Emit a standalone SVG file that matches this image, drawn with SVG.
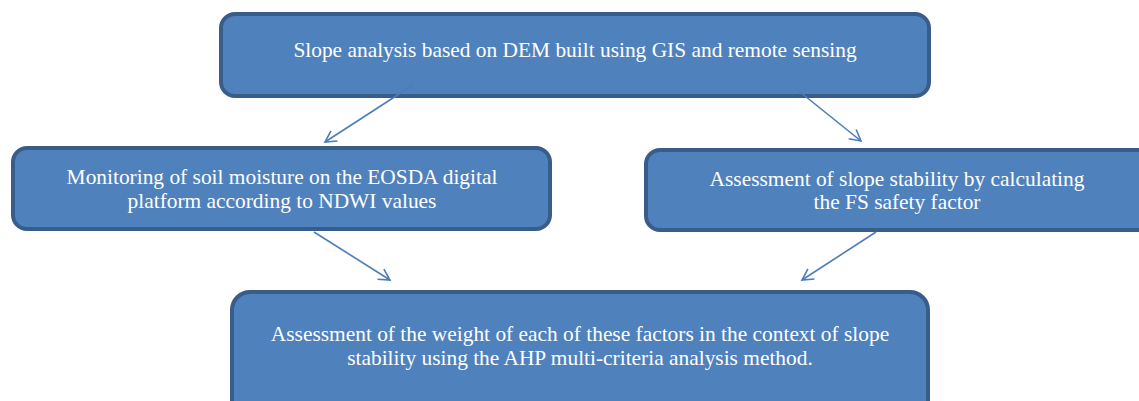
<svg xmlns="http://www.w3.org/2000/svg" width="1139" height="401" viewBox="0 0 1139 401">
<style>
.box{fill:#4F81BD;stroke:#385D8A;stroke-width:4}
.t{fill:#FFFFFF;font-family:"Liberation Serif","Times New Roman",serif;font-size:21.4px;text-anchor:middle}
.c{stroke:#4A7EBB;stroke-width:1.6;fill:none}
</style>
<defs>
<marker id="a" markerWidth="14" markerHeight="14" refX="12" refY="7" orient="auto" markerUnits="userSpaceOnUse">
<path d="M1,1 L12,7 L1,13" fill="none" stroke="#4A7EBB" stroke-width="1.6"/>
</marker>
</defs>
<rect width="1139" height="401" fill="#FFFFFF"/>
<g id="top">
<rect class="box" x="221" y="14" width="708" height="82" rx="14"/>
<text class="t" x="575" y="57">Slope analysis based on DEM built using GIS and remote sensing</text>
</g>
<g id="left">
<rect class="box" x="13" y="148" width="537" height="81" rx="14"/>
<text class="t" x="282" y="184">Monitoring of soil moisture on the EOSDA digital</text>
<text class="t" x="282" y="208">platform according to NDWI values</text>
</g>
<g id="right">
<rect class="box" x="646" y="150" width="510" height="80" rx="14"/>
<text class="t" x="897" y="186">Assessment of slope stability by calculating</text>
<text class="t" x="897" y="209">the FS safety factor</text>
</g>
<g id="bottom">
<rect class="box" x="232" y="292" width="696" height="130" rx="18"/>
<text class="t" x="580" y="341">Assessment of the weight of each of these factors in the context of slope</text>
<text class="t" x="580" y="365">stability using the AHP multi-criteria analysis method.</text>
</g>
<g id="connectors">
<line class="c" x1="413" y1="85" x2="325" y2="142" marker-end="url(#a)"/>
<line class="c" x1="795" y1="88" x2="861" y2="141" marker-end="url(#a)"/>
<line class="c" x1="314" y1="232" x2="390" y2="280" marker-end="url(#a)"/>
<line class="c" x1="876" y1="232" x2="802" y2="280" marker-end="url(#a)"/>
</g>
</svg>
